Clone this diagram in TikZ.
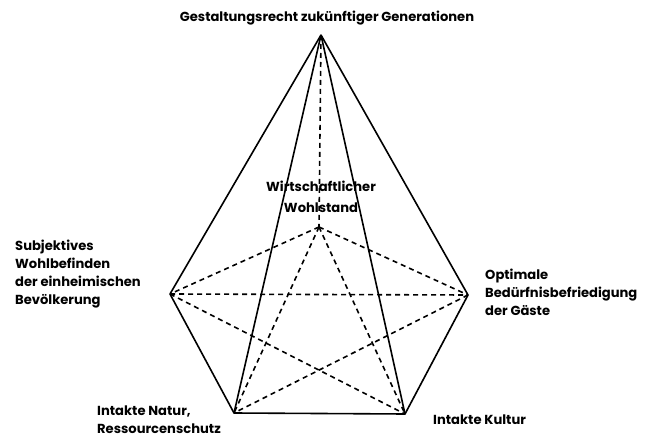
\documentclass[tikz,border=0pt]{standalone}
\usepackage{fontspec}
\setmainfont{Poppins}
\begin{document}
\begin{tikzpicture}[x=1pt,y=-1pt,
  edge/.style={line width=1.6pt,line join=round},
  dedge/.style={line width=1.6pt,dash pattern=on 5pt off 4pt},
  lbl/.style={font=\fontsize{13.1}{18}\selectfont\bfseries,inner sep=0pt,align=left}]
\useasboundingbox (0,0) rectangle (647,443);
\coordinate (A) at (321,35);
\coordinate (L) at (170,294);
\coordinate (R) at (468,295);
\coordinate (C) at (319,227);
\coordinate (BL) at (234,413);
\coordinate (BR) at (405,414);
% dashed
\draw[dedge] (A) -- (C);
\draw[dedge] (C) -- (L);
\draw[dedge] (C) -- (R);
\draw[dedge] (C) -- (BL);
\draw[dedge] (C) -- (BR);
\draw[dedge] (L) -- (R);
\draw[dedge] (L) -- (BR);
\draw[dedge] (R) -- (BL);
% solid
\draw[edge] (A) -- (L);
\draw[edge] (A) -- (R);
\draw[edge] (A) -- (BL);
\draw[edge] (A) -- (BR);
\draw[edge] (L) -- (BL) -- (BR) -- (R);
% labels
\node[lbl,anchor=base] (tA) at (327,22) {Gestaltungsrecht zukünftiger Generationen};
\node[lbl,align=center,anchor=base] (tC) at (321,213) {Wirtschaftlicher\\[3pt]Wohlstand};
\node[lbl,anchor=north west] (tL) at (15,240) {Subjektives\\Wohlbefinden\\der einheimischen\\Bevölkerung};
\node[lbl,anchor=north west] (tR) at (485,269) {Optimale\\Bedürfnisbefriedigung\\der Gäste};
\node[lbl,anchor=north west] (tBL) at (97,406) {Intakte Natur,\\Ressourcenschutz};
\node[lbl,anchor=north west] (tBR) at (433,415) {Intakte Kultur};
\end{tikzpicture}
\end{document}
